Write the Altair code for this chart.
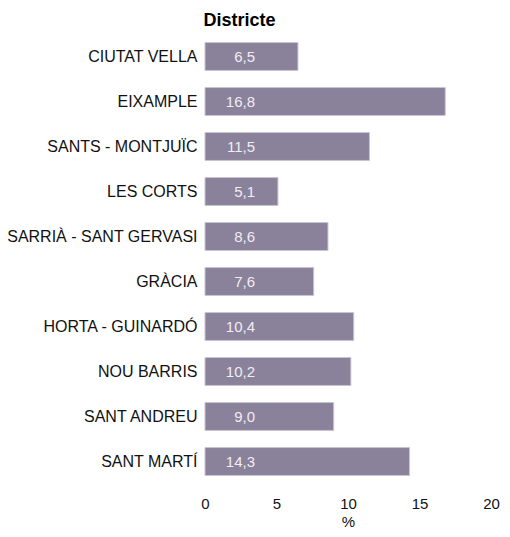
import altair as alt
import pandas as pd

districtes = ["CIUTAT VELLA", "EIXAMPLE", "SANTS - MONTJUÏC", "LES CORTS",
              "SARRIÀ - SANT GERVASI", "GRÀCIA", "HORTA - GUINARDÓ",
              "NOU BARRIS", "SANT ANDREU", "SANT MARTÍ"]
valors = [6.5, 16.8, 11.5, 5.1, 8.6, 7.6, 10.4, 10.2, 9.0, 14.3]
etiquetes = [f"{v:.1f}".replace(".", ",") for v in valors]
x_ticks = [0, 5, 10, 15, 20]

df = pd.DataFrame({"Districte": districtes, "valor": valors, "etiqueta": etiquetes})

FONT = "Liberation Sans"

y_enc = alt.Y(
    "Districte:N", sort=districtes,
    scale=alt.Scale(paddingInner=0.38, paddingOuter=0.19),
    axis=alt.Axis(title="Districte", titleAngle=0, titleAlign="center",
                  titleBaseline="alphabetic", titleX=34, titleY=-9,
                  titleFontSize=18, titleFontWeight="bold", titleFont=FONT,
                  titleColor="#000000",
                  labelFont=FONT, labelFontSize=16, labelColor="#111111",
                  labelPadding=8, ticks=False, tickSize=0, domain=False,
                  labelLimit=400),
)

bars = alt.Chart(df).mark_bar(
    color="#8a819b", stroke="#c9c3d2", strokeWidth=1
).encode(
    x=alt.X("valor:Q", scale=alt.Scale(domain=[0, 20], nice=False),
            axis=alt.Axis(values=x_ticks, title="%", grid=False, domain=False,
                          ticks=False, tickSize=0, labelPadding=12,
                          labelFlush=False,
                          labelFont=FONT, labelFontSize=15, labelColor="#111111",
                          titleFont=FONT, titleFontSize=15, titleFontWeight="normal",
                          titleColor="#111111", titleBaseline="alphabetic",
                          titleY=42)),
    y=y_enc,
)

text = alt.Chart(df).mark_text(
    align="right", baseline="middle", font=FONT, fontSize=15, color="#f1edf4"
).encode(
    x=alt.value(50),
    y=alt.Y("Districte:N", sort=districtes),
    text="etiqueta:N",
)

chart = alt.layer(bars, text).properties(
    width=286, height=450,
    autosize=alt.AutoSizeParams(type="none"),
    padding={"left": 197, "top": 26, "right": 10, "bottom": 45},
).configure_view(stroke=None)

chart.save("out.html", embed_options={"renderer": "svg", "actions": False})
